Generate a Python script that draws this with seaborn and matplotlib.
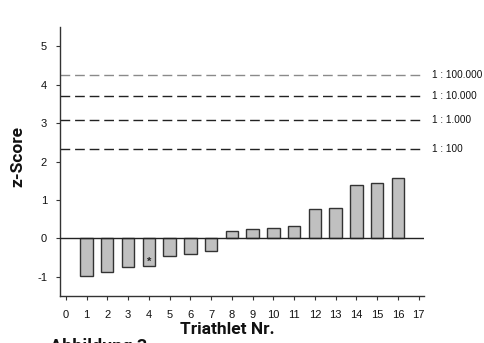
import matplotlib
matplotlib.use("Agg")
import matplotlib.pyplot as plt
import seaborn as sns
import pandas as pd

# Daten
athleten = list(range(1, 17))
z_werte = [-0.98, -0.87, -0.75, -0.73, -0.46, -0.41, -0.32, 0.19,
           0.24, 0.26, 0.33, 0.77, 0.79, 1.40, 1.45, 1.56]
schwellen = [2.326, 3.090, 3.719, 4.265]
schwellen_labels = ["1 : 100", "1 : 1.000", "1 : 10.000", "1 : 100.000"]
schwellen_farben = ["#222222", "#222222", "#222222", "#8a8a8a"]
markiert = 4  # Triathlet mit Stern

df = pd.DataFrame({"Triathlet": athleten, "z": z_werte})

sns.set_style("white")
plt.rcParams['font.family'] = ['Liberation Sans', 'DejaVu Sans']
plt.rcParams['axes.unicode_minus'] = False

fig = plt.figure(figsize=(4.85, 3.43), dpi=100)
ax = fig.add_axes([0.1227, 0.137, 0.7513, 0.784])

sns.barplot(data=df, x="Triathlet", y="z", native_scale=True, width=0.6,
            color="#c0c0c0", edgecolor="#333333", linewidth=1.0,
            saturation=1, ax=ax)

ax.axhline(0, color="#222222", lw=1.0, zorder=3)
for s, lab, c in zip(schwellen, schwellen_labels, schwellen_farben):
    ax.axhline(s, color=c, lw=1.0, dashes=(7, 3.5))
    ax.text(17.65, s, lab, fontsize=7.2, va="center", ha="left", color="#111111")

# Stern
ax.text(markiert, z_werte[markiert - 1] + 0.13, "*", ha="center", va="center",
        fontsize=8, fontweight="bold")

ax.set_xlim(-0.3, 17.25)
ax.set_ylim(-1.5, 5.5)
ax.set_xticks(range(0, 18))
ax.set_yticks(range(-1, 6))
ax.tick_params(axis="both", labelsize=8, length=3, width=0.8, direction="out",
               color="#333333", labelcolor="#111111", bottom=True, left=True)
ax.tick_params(axis="x", pad=7)
ax.tick_params(axis="y", pad=6)
sns.despine(ax=ax)
for sp in ["left", "bottom"]:
    ax.spines[sp].set_linewidth(1.0)
    ax.spines[sp].set_color("#333333")

kondens = ['Roboto', 'DejaVu Sans']
ax.set_xlabel("Triathlet Nr.", fontsize=12.5, fontweight="bold", family=kondens,
              color="#111111")
ax.set_ylabel("z-Score", fontsize=12.5, fontweight="bold", family=kondens,
              color="#111111")
ax.xaxis.set_label_coords(0.46, -0.095)
ax.yaxis.set_label_coords(-0.095, 0.52)

fig.text(0.103, 1 - 338 / 343, "Abbildung 3", fontsize=13, fontweight="bold",
         family=kondens, ha="left", va="top", color="#111111")

fig.savefig("out.png", dpi=100)
